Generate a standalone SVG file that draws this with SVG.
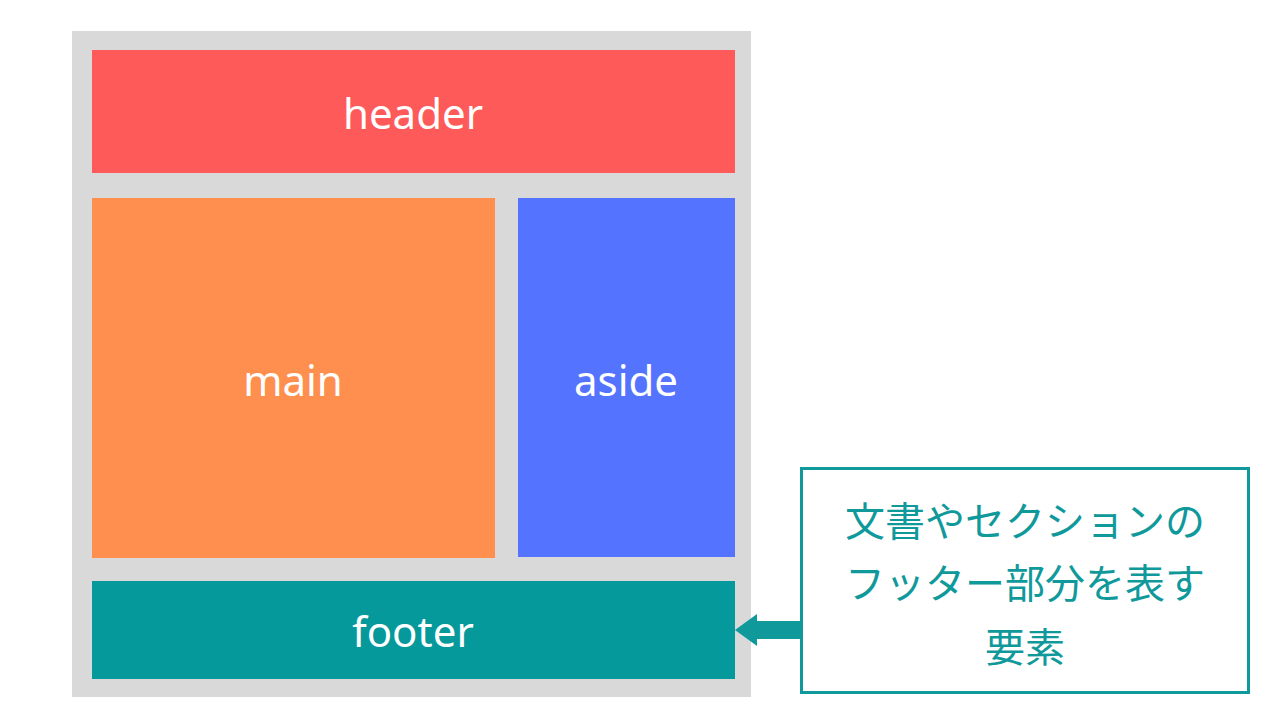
<svg xmlns="http://www.w3.org/2000/svg" width="1280" height="720" viewBox="0 0 1280 720">
<style>
.l{font-family:"Noto Sans","Open Sans",sans-serif;font-size:42px;fill:#fff;text-anchor:middle}
.j{font-family:"Noto Sans CJK JP",sans-serif;font-size:40px;fill:#10999B;text-anchor:middle}
</style>
<rect width="1280" height="720" fill="#fff"/>
<g id="page"><rect x="72" y="31" width="679" height="666" fill="#D9D9D9"/></g>
<g id="header"><rect x="92" y="50" width="643" height="123" fill="#FF5A5A"/><text class="l" x="413" y="129">header</text></g>
<g id="main"><rect x="92" y="198" width="403" height="360" fill="#FF8F4F"/><text class="l" x="293" y="396">main</text></g>
<g id="aside"><rect x="518" y="198" width="217" height="359" fill="#5473FF"/><text class="l" x="626" y="396">aside</text></g>
<g id="footer"><rect x="92" y="581" width="643" height="98" fill="#05999B"/><text class="l" x="413" y="647">footer</text></g>
<g id="note"><rect x="801.5" y="468.5" width="447" height="224" fill="#fff" stroke="#10999B" stroke-width="3"/>
<text class="j" x="1025" y="536">文書やセクションの</text>
<text class="j" x="1025" y="598">フッター部分を表す</text>
<text class="j" x="1025" y="662">要素</text></g>
<g id="connectors"><polygon points="735,630 757,614 757,621 800,621 800,639 757,639 757,646" fill="#10999B"/></g>
</svg>
